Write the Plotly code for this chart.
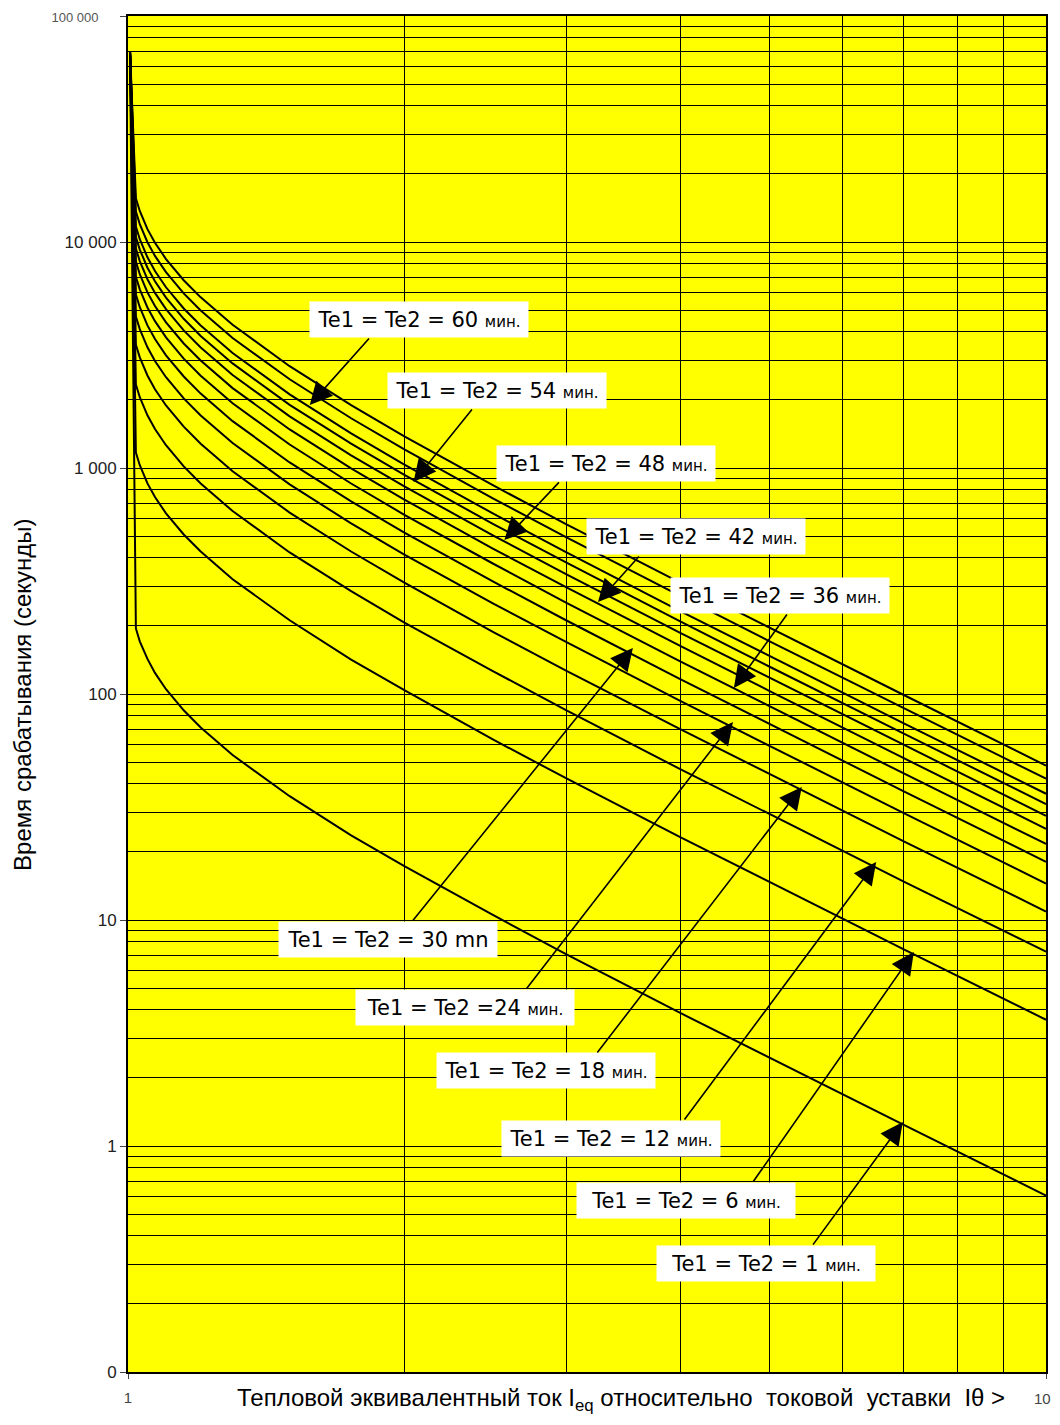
import plotly.graph_objects as go

# relative thermal current I_eq / Iθ> at which the curves were read
current = [1.005, 1.02, 1.03, 1.05, 1.07, 1.1, 1.15, 1.2, 1.3, 1.5, 1.75, 2, 2.5, 3, 4, 5, 7, 10]

# trip time in seconds (Te1 = Te2 in minutes)
t_te1 = [70000, 195, 171, 143, 124, 105, 84.7, 71.1, 53.7, 35.3, 23.7, 17.3, 10.5, 7.07, 3.87, 2.45, 1.24, 0.603]
t_te6 = [70000, 1169, 1029, 855, 744, 630, 508, 427, 322, 212, 142, 104, 62.8, 42.4, 23.2, 14.7, 7.42, 3.62]
t_te12 = [70000, 2339, 2057, 1710, 1488, 1261, 1016, 854, 645, 423, 285, 207, 126, 84.8, 46.4, 29.4, 14.8, 7.24]
t_te18 = [70000, 3508, 3086, 2566, 2232, 1891, 1524, 1280, 967, 635, 427, 311, 188, 127, 69.7, 44.1, 22.3, 10.9]
t_te24 = [70000, 4678, 4115, 3421, 2976, 2522, 2032, 1707, 1290, 846, 569, 414, 251, 170, 92.9, 58.8, 29.7, 14.5]
t_te30 = [70000, 5847, 5144, 4276, 3721, 3152, 2540, 2134, 1612, 1058, 712, 518, 314, 212, 116, 73.4, 37.1, 18.1]
t_te36 = [70000, 7017, 6172, 5131, 4465, 3783, 3048, 2561, 1935, 1270, 854, 621, 377, 254, 139, 88.1, 44.5, 21.7]
t_te42 = [70000, 8186, 7201, 5986, 5209, 4413, 3556, 2988, 2257, 1481, 996, 725, 439, 297, 163, 103, 52.0, 25.3]
t_te48 = [70000, 9356, 8230, 6841, 5953, 5044, 4064, 3415, 2580, 1693, 1138, 829, 502, 339, 186, 118, 59.4, 28.9]
t_te54 = [70000, 10525, 9259, 7697, 6697, 5674, 4572, 3841, 2902, 1904, 1281, 932, 565, 382, 209, 132, 66.8, 32.6]
t_te60 = [70000, 11695, 10287, 8552, 7441, 6305, 5080, 4268, 3225, 2116, 1423, 1036, 628, 424, 232, 147, 74.2, 36.2]
t_te70 = [70000, 13644, 12002, 9977, 8681, 7355, 5927, 4980, 3762, 2469, 1660, 1208, 732, 495, 271, 171, 86.6, 42.2]
t_te80 = [70000, 15593, 13716, 11402, 9922, 8406, 6774, 5691, 4300, 2821, 1897, 1381, 837, 565, 310, 196, 99.0, 48.2]

y_tickvals = [0.1, 1, 10, 100, 1000, 10000, 100000]
y_ticktext = ["0", "1", "10", "100", "1 000", "10 000",
              "<span style='font-size:13px;color:#555'>100 000"
              "&nbsp;&nbsp;&nbsp;&nbsp;&nbsp;</span>"]
x_tickvals = [1, 10]
x_ticktext = ["1", ""]
x_last_label = "10"

curves = [t_te1, t_te6, t_te12, t_te18, t_te24, t_te30, t_te36,
          t_te42, t_te48, t_te54, t_te60, t_te70, t_te80]

fig = go.Figure()
for t in curves:
    fig.add_trace(go.Scatter(x=current, y=t, mode="lines",
                             line=dict(color="black", width=2),
                             showlegend=False, hoverinfo="skip"))

MIN = "<span style='font-size:15px'>мин.</span>"
LABEL_FONT = dict(family="DejaVu Sans", size=21, color="black")

# label, box centre, arrow tail, arrow tip  (log10 I, log10 t)
labels = [
    ("Te1 = Te2 = 60 " + MIN, (0.317, 3.659), (0.264, 3.580), (0.198, 3.279)),
    ("Te1 = Te2 = 54 " + MIN, (0.402, 3.345), (0.376, 3.266), (0.311, 2.938)),
    ("Te1 = Te2 = 48 " + MIN, (0.521, 3.022), (0.471, 2.943), (0.410, 2.681)),
    ("Te1 = Te2 = 42 " + MIN, (0.619, 2.695), (0.558, 2.615), (0.512, 2.407)),
    ("Te1 = Te2 = 36 " + MIN, (0.710, 2.438), (0.719, 2.358), (0.660, 2.027)),
    ("Te1 = Te2 = 30 mn", (0.283, 0.912), (0.309, 0.991), (0.550, 2.204)),
    ("Te1 = Te2 =24 " + MIN, (0.367, 0.611), (0.433, 0.690), (0.659, 1.876)),
    ("Te1 = Te2 = 18 " + MIN, (0.455, 0.332), (0.510, 0.407), (0.734, 1.589)),
    ("Te1 = Te2 = 12 " + MIN, (0.526, 0.035), (0.605, 0.111), (0.815, 1.257)),
    ("Te1 = Te2 = 6 " + MIN, (0.608, -0.239), (0.680, -0.164), (0.856, 0.858)),
    ("Te1 = Te2 = 1 " + MIN, (0.695, -0.518), (0.745, -0.443), (0.844, 0.106)),
]
for text, (bx, by), (tx, ty), (hx, hy) in labels:
    fig.add_annotation(x=bx, y=by, text=text, showarrow=False, bgcolor="white",
                       width=216, height=33, borderpad=1, font=LABEL_FONT)
    fig.add_annotation(x=hx, y=hy, ax=tx, ay=ty, axref="x", ayref="y", text="",
                       showarrow=True, arrowhead=2, arrowsize=2.8, arrowwidth=1.6,
                       arrowcolor="black")

# right-hand x tick label, kept inside the page edge
fig.add_annotation(x=1, y=-0.0195, xref="paper", yref="paper", xshift=-4,
                   xanchor="center", yanchor="middle", text=x_last_label,
                   showarrow=False, font=dict(family="Liberation Sans", size=15, color="#444"))

fig.add_annotation(x=-0.1155, y=0.5, xref="paper", yref="paper", textangle=-90,
                   xanchor="center", yanchor="middle",
                   text="Время срабатывания (секунды)", showarrow=False,
                   font=dict(family="Liberation Sans", size=24, color="black"))
fig.add_annotation(x=0.537, y=-0.0205, xref="paper", yref="paper",
                   xanchor="center", yanchor="middle",
                   text="Тепловой эквивалентный ток I<sub>eq</sub> относительно&nbsp; "
                        "токовой&nbsp; уставки&nbsp; Iθ &gt;",
                   showarrow=False,
                   font=dict(family="Liberation Sans", size=24, color="black"))

# the page body adds an 8 px margin, so the figure is sized to fit inside it
fig.update_layout(
    width=1044, height=1409,
    margin=dict(l=120, r=6, t=8, b=45),
    paper_bgcolor="white", plot_bgcolor="#FFFF00",
    font=dict(family="Liberation Sans", color="#222"),
    xaxis=dict(type="log", range=[0, 1], tickvals=x_tickvals, ticktext=x_ticktext,
               ticks="outside", ticklen=5, tickcolor="#444", ticklabelstandoff=6,
               tickfont=dict(size=15, color="#444"), automargin=False,
               showgrid=True, gridcolor="black", gridwidth=1,
               minor=dict(tickvals=[2, 3, 4, 5, 6, 7, 8, 9], showgrid=True,
                          gridcolor="black", gridwidth=1, ticks=""),
               showline=True, linecolor="black", linewidth=2, mirror=True,
               zeroline=False),
    yaxis=dict(type="log", range=[-1, 5], tickvals=y_tickvals, ticktext=y_ticktext,
               ticks="outside", ticklen=6, tickcolor="#444",
               tickfont=dict(size=17, color="#222"), automargin=False,
               showgrid=True, gridcolor="black", gridwidth=1,
               minor=dict(tickvals=[m * 10 ** k for k in range(-1, 5) for m in range(2, 10)],
                          showgrid=True, gridcolor="black", gridwidth=1, ticks=""),
               showline=True, linecolor="black", linewidth=2, mirror=True,
               zeroline=False),
)

fig.write_html("out.html")
